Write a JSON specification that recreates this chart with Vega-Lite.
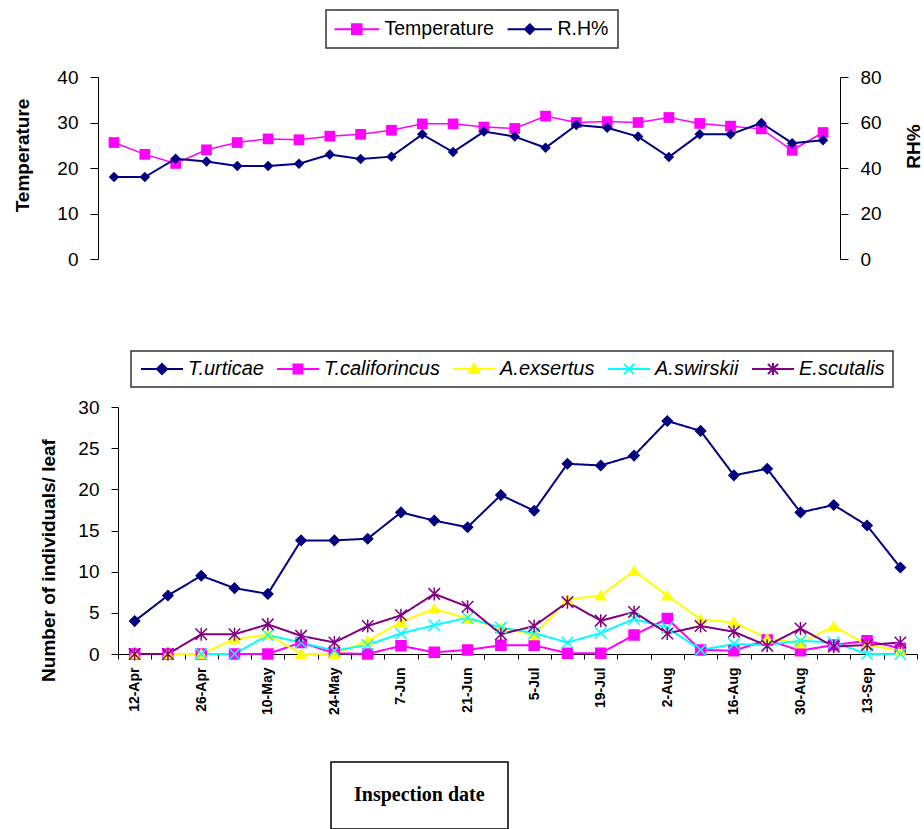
{
  "$schema": "https://vega.github.io/schema/vega-lite/v6.json",
  "background": "white",
  "padding": {"left": 13, "top": 9, "right": 0, "bottom": 0},
  "spacing": 81,
  "config": {
    "view": {"stroke": null},
    "font": "Liberation Sans",
    "axis": {"grid": false, "domainColor": "#000", "tickColor": "#000", "labelColor": "#000", "titleColor": "#000", "labelFont": "Liberation Sans", "titleFont": "Liberation Sans", "labelFontSize": 19, "titleFontSize": 19, "titleFontWeight": "bold", "domainWidth": 1, "tickWidth": 1},
    "legend": {"labelFont": "Liberation Sans", "labelColor": "#000"}
  },
  "resolve": {"scale": {"color": "independent", "x": "independent", "y": "independent", "strokeDash": "independent"}},
  "vconcat": [
    {
      "width": 722,
      "height": 182,
      "data": {"values": [
        {"d": "2010-04-12", "s": "Temperature", "v": 25.6}, {"d": "2010-04-19", "s": "Temperature", "v": 23.0}, {"d": "2010-04-26", "s": "Temperature", "v": 21.0}, {"d": "2010-05-03", "s": "Temperature", "v": 24.0}, {"d": "2010-05-10", "s": "Temperature", "v": 25.6}, {"d": "2010-05-17", "s": "Temperature", "v": 26.4}, {"d": "2010-05-24", "s": "Temperature", "v": 26.2}, {"d": "2010-05-31", "s": "Temperature", "v": 27.0}, {"d": "2010-06-07", "s": "Temperature", "v": 27.4}, {"d": "2010-06-14", "s": "Temperature", "v": 28.3}, {"d": "2010-06-21", "s": "Temperature", "v": 29.7}, {"d": "2010-06-28", "s": "Temperature", "v": 29.7},
        {"d": "2010-07-05", "s": "Temperature", "v": 29.0}, {"d": "2010-07-12", "s": "Temperature", "v": 28.7}, {"d": "2010-07-19", "s": "Temperature", "v": 31.4}, {"d": "2010-07-26", "s": "Temperature", "v": 30.0}, {"d": "2010-08-02", "s": "Temperature", "v": 30.2}, {"d": "2010-08-09", "s": "Temperature", "v": 30.0}, {"d": "2010-08-16", "s": "Temperature", "v": 31.1}, {"d": "2010-08-23", "s": "Temperature", "v": 29.8}, {"d": "2010-08-30", "s": "Temperature", "v": 29.2}, {"d": "2010-09-06", "s": "Temperature", "v": 28.6}, {"d": "2010-09-13", "s": "Temperature", "v": 23.9}, {"d": "2010-09-20", "s": "Temperature", "v": 27.8},
        {"d": "2010-04-12", "s": "R.H%", "v": 36.0}, {"d": "2010-04-19", "s": "R.H%", "v": 36.0}, {"d": "2010-04-26", "s": "R.H%", "v": 44.1}, {"d": "2010-05-03", "s": "R.H%", "v": 42.9}, {"d": "2010-05-10", "s": "R.H%", "v": 40.9}, {"d": "2010-05-17", "s": "R.H%", "v": 40.9}, {"d": "2010-05-24", "s": "R.H%", "v": 41.9}, {"d": "2010-05-31", "s": "R.H%", "v": 45.9}, {"d": "2010-06-07", "s": "R.H%", "v": 44.0}, {"d": "2010-06-14", "s": "R.H%", "v": 45.0}, {"d": "2010-06-21", "s": "R.H%", "v": 54.8}, {"d": "2010-06-28", "s": "R.H%", "v": 47.0},
        {"d": "2010-07-05", "s": "R.H%", "v": 56.0}, {"d": "2010-07-12", "s": "R.H%", "v": 53.8}, {"d": "2010-07-19", "s": "R.H%", "v": 48.9}, {"d": "2010-07-26", "s": "R.H%", "v": 58.9}, {"d": "2010-08-02", "s": "R.H%", "v": 57.7}, {"d": "2010-08-09", "s": "R.H%", "v": 53.8}, {"d": "2010-08-16", "s": "R.H%", "v": 44.8}, {"d": "2010-08-23", "s": "R.H%", "v": 54.8}, {"d": "2010-08-30", "s": "R.H%", "v": 54.8}, {"d": "2010-09-06", "s": "R.H%", "v": 59.8}, {"d": "2010-09-13", "s": "R.H%", "v": 50.9}, {"d": "2010-09-20", "s": "R.H%", "v": 52.2}
      ]},
      "encoding": {
        "x": {"field": "d", "type": "ordinal", "timeUnit": "utcmonthdate", "scale": {"type": "point", "padding": 0, "range": [-4, 705]}, "axis": null},
        "color": {
          "field": "s", "type": "nominal",
          "scale": {"domain": ["Temperature", "R.H%"], "range": ["#FF00FF", "#000080"]},
          "legend": {
            "orient": "none", "legendX": 208, "legendY": -67, "direction": "horizontal", "columns": 2, "title": null,
            "labelFontSize": 19.5, "symbolSize": 144, "symbolOffset": 12, "labelOffset": 18, "columnPadding": 9, "padding": 9,
            "strokeColor": "#333", "fillColor": "white",
            "encode": {
              "symbols": {"update": {
                "shape": {"signal": "datum.value === 'Temperature' ? 'M-3.7,0H3.7M-0.8,-0.8H0.8V0.8H-0.8Z' : 'M-3.7,0H3.7M0,-0.8L0.8,0L0,0.8L-0.8,0Z'"},
                "fill": {"signal": "datum.value === 'Temperature' ? '#FF00FF' : '#000080'"},
                "stroke": {"signal": "datum.value === 'Temperature' ? '#FF00FF' : '#000080'"},
                "strokeWidth": {"value": 2}, "opacity": {"value": 1}
              }},
              "legend": {"update": {"strokeWidth": {"value": 1.5}}}
            }
          }
        }
      },
      "layer": [
        {
          "transform": [{"filter": "datum.s === 'Temperature'"}],
          "encoding": {"y": {"field": "v", "type": "quantitative", "scale": {"domain": [0, 40]},
            "axis": {"orient": "left", "offset": 20, "values": [0, 10, 20, 30, 40], "tickSize": 8, "labelPadding": 12, "title": "Temperature", "titleAngle": 270, "titleX": -70, "titleY": 78, "titleBaseline": "alphabetic", "titleAlign": "center",
              "encode": {"ticks": {"update": {"x": {"value": 8}}}}}}},
          "layer": [
            {"mark": {"type": "line", "strokeWidth": 1.5}, "encoding": {}},
            {"mark": {"type": "point", "shape": "square", "filled": true, "size": 115, "opacity": 1}, "encoding": {}}
          ]
        },
        {
          "transform": [{"filter": "datum.s === 'R.H%'"}],
          "encoding": {"y": {"field": "v", "type": "quantitative", "scale": {"domain": [0, 80]},
            "axis": {"orient": "right", "values": [0, 20, 40, 60, 80], "tickSize": 8, "labelPadding": 12, "title": "RH%", "titleAngle": 270, "titleX": 79, "titleY": 69, "titleBaseline": "alphabetic", "titleAlign": "center",
              "encode": {"ticks": {"update": {"x": {"value": -8}}}}}}},
          "layer": [
            {"mark": {"type": "line", "strokeWidth": 2}, "encoding": {}},
            {"mark": {"type": "point", "shape": "diamond", "filled": true, "size": 110, "opacity": 1}, "encoding": {}}
          ]
        }
      ],
      "resolve": {"scale": {"y": "independent"}}
    },
    {
      "width": 799,
      "height": 247,
      "data": {"values": [
        {"d": "2010-04-12", "s": "T.urticae", "v": 4.0}, {"d": "2010-04-19", "s": "T.urticae", "v": 7.1}, {"d": "2010-04-26", "s": "T.urticae", "v": 9.5}, {"d": "2010-05-03", "s": "T.urticae", "v": 8.0}, {"d": "2010-05-10", "s": "T.urticae", "v": 7.3}, {"d": "2010-05-17", "s": "T.urticae", "v": 13.8}, {"d": "2010-05-24", "s": "T.urticae", "v": 13.8}, {"d": "2010-05-31", "s": "T.urticae", "v": 14.0}, {"d": "2010-06-07", "s": "T.urticae", "v": 17.2}, {"d": "2010-06-14", "s": "T.urticae", "v": 16.2}, {"d": "2010-06-21", "s": "T.urticae", "v": 15.4}, {"d": "2010-06-28", "s": "T.urticae", "v": 19.3},
        {"d": "2010-07-05", "s": "T.urticae", "v": 17.4}, {"d": "2010-07-12", "s": "T.urticae", "v": 23.1}, {"d": "2010-07-19", "s": "T.urticae", "v": 22.9}, {"d": "2010-07-26", "s": "T.urticae", "v": 24.1}, {"d": "2010-08-02", "s": "T.urticae", "v": 28.3}, {"d": "2010-08-09", "s": "T.urticae", "v": 27.1}, {"d": "2010-08-16", "s": "T.urticae", "v": 21.7}, {"d": "2010-08-23", "s": "T.urticae", "v": 22.5}, {"d": "2010-08-30", "s": "T.urticae", "v": 17.2}, {"d": "2010-09-06", "s": "T.urticae", "v": 18.1}, {"d": "2010-09-13", "s": "T.urticae", "v": 15.6}, {"d": "2010-09-20", "s": "T.urticae", "v": 10.5},
        {"d": "2010-04-12", "s": "T.califorincus", "v": 0}, {"d": "2010-04-19", "s": "T.califorincus", "v": 0}, {"d": "2010-04-26", "s": "T.califorincus", "v": 0}, {"d": "2010-05-03", "s": "T.califorincus", "v": 0}, {"d": "2010-05-10", "s": "T.califorincus", "v": 0}, {"d": "2010-05-17", "s": "T.califorincus", "v": 1.4}, {"d": "2010-05-24", "s": "T.califorincus", "v": 0.1}, {"d": "2010-05-31", "s": "T.califorincus", "v": 0}, {"d": "2010-06-07", "s": "T.califorincus", "v": 1.0}, {"d": "2010-06-14", "s": "T.califorincus", "v": 0.2}, {"d": "2010-06-21", "s": "T.califorincus", "v": 0.5}, {"d": "2010-06-28", "s": "T.califorincus", "v": 1.05},
        {"d": "2010-07-05", "s": "T.califorincus", "v": 1.05}, {"d": "2010-07-12", "s": "T.califorincus", "v": 0.1}, {"d": "2010-07-19", "s": "T.califorincus", "v": 0.1}, {"d": "2010-07-26", "s": "T.califorincus", "v": 2.3}, {"d": "2010-08-02", "s": "T.califorincus", "v": 4.3}, {"d": "2010-08-09", "s": "T.califorincus", "v": 0.5}, {"d": "2010-08-16", "s": "T.califorincus", "v": 0.4}, {"d": "2010-08-23", "s": "T.califorincus", "v": 1.7}, {"d": "2010-08-30", "s": "T.califorincus", "v": 0.4}, {"d": "2010-09-06", "s": "T.califorincus", "v": 1.1}, {"d": "2010-09-13", "s": "T.califorincus", "v": 1.6}, {"d": "2010-09-20", "s": "T.califorincus", "v": 0.7},
        {"d": "2010-04-12", "s": "A.exsertus", "v": 0}, {"d": "2010-04-19", "s": "A.exsertus", "v": 0}, {"d": "2010-04-26", "s": "A.exsertus", "v": 0}, {"d": "2010-05-03", "s": "A.exsertus", "v": 1.8}, {"d": "2010-05-10", "s": "A.exsertus", "v": 2.35}, {"d": "2010-05-17", "s": "A.exsertus", "v": 0}, {"d": "2010-05-24", "s": "A.exsertus", "v": 0}, {"d": "2010-05-31", "s": "A.exsertus", "v": 1.6}, {"d": "2010-06-07", "s": "A.exsertus", "v": 3.9}, {"d": "2010-06-14", "s": "A.exsertus", "v": 5.5}, {"d": "2010-06-21", "s": "A.exsertus", "v": 4.3}, {"d": "2010-06-28", "s": "A.exsertus", "v": 3.2},
        {"d": "2010-07-05", "s": "A.exsertus", "v": 2.3}, {"d": "2010-07-12", "s": "A.exsertus", "v": 6.6}, {"d": "2010-07-19", "s": "A.exsertus", "v": 7.1}, {"d": "2010-07-26", "s": "A.exsertus", "v": 10.1}, {"d": "2010-08-02", "s": "A.exsertus", "v": 7.1}, {"d": "2010-08-09", "s": "A.exsertus", "v": 4.2}, {"d": "2010-08-16", "s": "A.exsertus", "v": 3.85}, {"d": "2010-08-23", "s": "A.exsertus", "v": 1.9}, {"d": "2010-08-30", "s": "A.exsertus", "v": 1.3}, {"d": "2010-09-06", "s": "A.exsertus", "v": 3.4}, {"d": "2010-09-13", "s": "A.exsertus", "v": 1.1}, {"d": "2010-09-20", "s": "A.exsertus", "v": 0.4},
        {"d": "2010-04-26", "s": "A.swirskii", "v": 0}, {"d": "2010-05-03", "s": "A.swirskii", "v": 0}, {"d": "2010-05-10", "s": "A.swirskii", "v": 2.3}, {"d": "2010-05-17", "s": "A.swirskii", "v": 1.4}, {"d": "2010-05-24", "s": "A.swirskii", "v": 0.4}, {"d": "2010-05-31", "s": "A.swirskii", "v": 1.1}, {"d": "2010-06-07", "s": "A.swirskii", "v": 2.5}, {"d": "2010-06-14", "s": "A.swirskii", "v": 3.5}, {"d": "2010-06-21", "s": "A.swirskii", "v": 4.4}, {"d": "2010-06-28", "s": "A.swirskii", "v": 3.2},
        {"d": "2010-07-05", "s": "A.swirskii", "v": 2.55}, {"d": "2010-07-12", "s": "A.swirskii", "v": 1.4}, {"d": "2010-07-19", "s": "A.swirskii", "v": 2.55}, {"d": "2010-07-26", "s": "A.swirskii", "v": 4.25}, {"d": "2010-08-02", "s": "A.swirskii", "v": 3.2}, {"d": "2010-08-09", "s": "A.swirskii", "v": 0.5}, {"d": "2010-08-16", "s": "A.swirskii", "v": 1.2}, {"d": "2010-08-23", "s": "A.swirskii", "v": 1.1}, {"d": "2010-08-30", "s": "A.swirskii", "v": 1.6}, {"d": "2010-09-06", "s": "A.swirskii", "v": 1.4}, {"d": "2010-09-13", "s": "A.swirskii", "v": 0}, {"d": "2010-09-20", "s": "A.swirskii", "v": 0},
        {"d": "2010-04-12", "s": "E.scutalis", "v": 0}, {"d": "2010-04-19", "s": "E.scutalis", "v": 0}, {"d": "2010-04-26", "s": "E.scutalis", "v": 2.4}, {"d": "2010-05-03", "s": "E.scutalis", "v": 2.4}, {"d": "2010-05-10", "s": "E.scutalis", "v": 3.6}, {"d": "2010-05-17", "s": "E.scutalis", "v": 2.2}, {"d": "2010-05-24", "s": "E.scutalis", "v": 1.4}, {"d": "2010-05-31", "s": "E.scutalis", "v": 3.4}, {"d": "2010-06-07", "s": "E.scutalis", "v": 4.7}, {"d": "2010-06-14", "s": "E.scutalis", "v": 7.3}, {"d": "2010-06-21", "s": "E.scutalis", "v": 5.75}, {"d": "2010-06-28", "s": "E.scutalis", "v": 2.4},
        {"d": "2010-07-05", "s": "E.scutalis", "v": 3.4}, {"d": "2010-07-12", "s": "E.scutalis", "v": 6.3}, {"d": "2010-07-19", "s": "E.scutalis", "v": 4.05}, {"d": "2010-07-26", "s": "E.scutalis", "v": 5.1}, {"d": "2010-08-02", "s": "E.scutalis", "v": 2.5}, {"d": "2010-08-09", "s": "E.scutalis", "v": 3.4}, {"d": "2010-08-16", "s": "E.scutalis", "v": 2.7}, {"d": "2010-08-23", "s": "E.scutalis", "v": 1.0}, {"d": "2010-08-30", "s": "E.scutalis", "v": 3.1}, {"d": "2010-09-06", "s": "E.scutalis", "v": 0.9}, {"d": "2010-09-13", "s": "E.scutalis", "v": 1.1}, {"d": "2010-09-20", "s": "E.scutalis", "v": 1.4}
      ]},
      "encoding": {
        "x": {"field": "d", "type": "ordinal", "timeUnit": "utcmonthdate", "bandPosition": 0.5,
          "scale": {"type": "band", "paddingInner": 0, "paddingOuter": 0},
          "axis": {"title": null, "format": "%-d-%b", "labelExpr": "round((datum.value - utc(2012,3,12)) / 86400000) % 14 === 0 ? datum.label : ''", "labelAngle": -90, "labelFontSize": 14, "labelFontWeight": "bold", "tickSize": 5, "labelPadding": 8, "tickBand": "extent"}},
        "y": {"field": "v", "type": "quantitative", "scale": {"domain": [0, 30]},
          "axis": {"values": [0, 5, 10, 15, 20, 25, 30], "tickSize": 7, "labelPadding": 12, "title": "Number of individuals/ leaf", "titleAngle": 270, "titleX": -64, "titleY": 153, "titleBaseline": "alphabetic", "titleAlign": "center"}},
        "color": {
          "field": "s", "type": "nominal",
          "scale": {"domain": ["T.urticae", "T.califorincus", "A.exsertus", "A.swirskii", "E.scutalis"], "range": ["#000080", "#FF00FF", "#FFFF00", "#00FFFF", "#800080"]},
          "legend": {
            "orient": "none", "legendX": 13, "legendY": -56, "direction": "horizontal", "columns": 5, "title": null,
            "labelFontSize": 20, "labelFontStyle": "italic", "symbolSize": 144, "symbolOffset": 13, "labelOffset": 16, "columnPadding": 9, "padding": 8,
            "strokeColor": "#333", "fillColor": "white",
            "encode": {
              "symbols": {"update": {
                "shape": {"signal": "datum.value === 'T.urticae' ? 'M-3.5,0H3.5M0,-0.85L0.85,0L0,0.85L-0.85,0Z' : datum.value === 'T.califorincus' ? 'M-3.5,0H3.5M-0.75,-0.75H0.75V0.75H-0.75Z' : datum.value === 'A.exsertus' ? 'M-3.5,0H3.5M0,-0.85L0.9,0.65L-0.9,0.65Z' : datum.value === 'A.swirskii' ? 'M-3.5,0H3.5M-0.85,-0.85L0.85,0.85M-0.85,0.85L0.85,-0.85' : 'M-3.5,0H3.5M-0.85,-0.85L0.85,0.85M-0.85,0.85L0.85,-0.85M0,-1V1'"},
                "fill": {"signal": "datum.value === 'T.urticae' ? '#000080' : datum.value === 'T.califorincus' ? '#FF00FF' : datum.value === 'A.exsertus' ? '#FFFF00' : datum.value === 'A.swirskii' ? '#00FFFF' : '#800080'"},
                "stroke": {"signal": "datum.value === 'T.urticae' ? '#000080' : datum.value === 'T.califorincus' ? '#FF00FF' : datum.value === 'A.exsertus' ? '#FFFF00' : datum.value === 'A.swirskii' ? '#00FFFF' : '#800080'"},
                "strokeWidth": {"value": 2}, "opacity": {"value": 1}
              }},
              "legend": {"update": {"strokeWidth": {"value": 1.5}}}
            }
          }
        }
      },
      "layer": [
        {"mark": {"type": "line", "strokeWidth": 2},
          "encoding": {
            "strokeDash": {"datum": "Inspection date", "type": "nominal", "scale": {"range": [[1, 0]]},
              "legend": {"orient": "none", "legendX": 213, "legendY": 355, "title": "Inspection date", "titleFont": "Liberation Serif", "titleFontSize": 20, "titleFontWeight": "bold", "titleColor": "#000", "titlePadding": 0, "padding": 23, "strokeColor": "#000", "fillColor": "white", "labelExpr": "''", "labelFontSize": 1, "symbolSize": 1, "symbolStrokeWidth": 0, "symbolOpacity": 0,
                "encode": {"legend": {"update": {"strokeWidth": {"value": 1.5}}}}}}
          }},
        {"mark": {"type": "point", "filled": true, "size": 100, "strokeWidth": 1.5, "opacity": 1},
          "encoding": {
            "shape": {"condition": [
              {"test": "datum.s === 'T.urticae'", "value": "diamond"},
              {"test": "datum.s === 'T.califorincus'", "value": "square"},
              {"test": "datum.s === 'A.exsertus'", "value": "triangle-up"},
              {"test": "datum.s === 'A.swirskii'", "value": "M-1.15,-1.15L1.15,1.15M-1.15,1.15L1.15,-1.15"}],
              "value": "M-1.15,-1.15L1.15,1.15M-1.15,1.15L1.15,-1.15M0,-1.3V1.3"},
            "stroke": {"condition": [
              {"test": "datum.s === 'T.urticae'", "value": "#000080"},
              {"test": "datum.s === 'T.califorincus'", "value": "#FF00FF"},
              {"test": "datum.s === 'A.exsertus'", "value": "#FFFF00"},
              {"test": "datum.s === 'A.swirskii'", "value": "#00FFFF"}],
              "value": "#800080"}
          }}
      ]
    }
  ]
}
